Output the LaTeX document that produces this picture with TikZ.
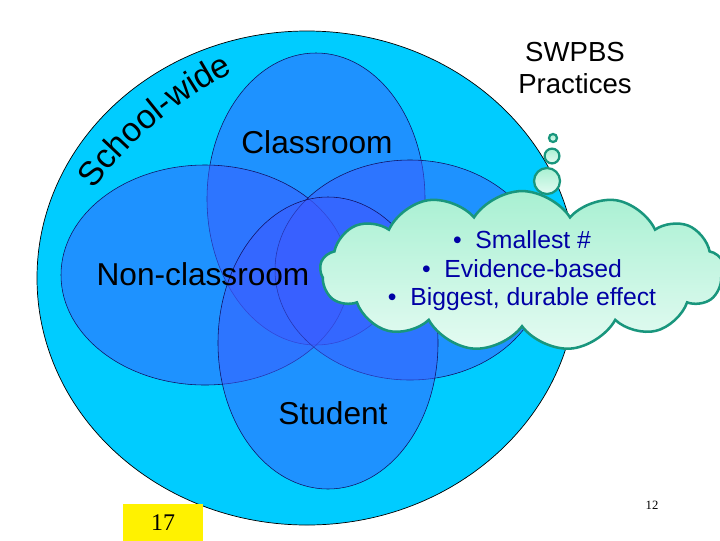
\documentclass[tikz,border=0pt]{standalone}
\usepackage{fontspec}
\setmainfont{Liberation Sans}
\newfontfamily\numfont{Liberation Serif}
\usepackage{xcolor}
\usepackage{tikz}
\usetikzlibrary{positioning, shapes.symbols, decorations.text}
\definecolor{swcyan}{HTML}{00CCFF}
\definecolor{zonefill}{RGB}{60,90,255}
\definecolor{zoneline}{HTML}{101060}
\definecolor{cloudline}{RGB}{25,150,125}
\definecolor{cloudtop}{RGB}{168,240,210}
\definecolor{cloudbot}{RGB}{228,251,242}
\definecolor{bullettext}{RGB}{0,0,165}

\begin{document}
\begin{tikzpicture}[x=0.025cm, y=-0.025cm,
  lbl/.style={font=\fontsize{22.5}{27}\selectfont},
  zone/.style={draw=zoneline, line width=0.4pt, fill=zonefill, fill opacity=0.5},
  thought/.style={cloud, cloud puffs=13, cloud puff arc=115, cloud ignores aspect,
    draw=cloudline, line width=1.8pt, top color=cloudtop, bottom color=cloudbot,
    minimum width=10.1cm, minimum height=3.85cm, inner sep=0pt, align=center,
    text=bullettext, font=\fontsize{17.6}{20.3}\selectfont},
  bub/.style={circle, draw=cloudline, line width=1.6pt, top color=cloudtop,
    bottom color=cloudbot, inner sep=0pt}]
  \useasboundingbox (0,0) rectangle (720,540);
  \clip (0,0) rectangle (720,540);

  % School-wide
  \draw[fill=swcyan, line width=0.5pt] (307,278) ellipse [x radius=270, y radius=247];
  \path[decorate, decoration={text along path, text align=center,
    text={|\fontsize{24}{28}\selectfont|School-wide}}]
    (80,208) to[bend left=14] (254,62);

  % Zonen
  \draw[zone] (316,199) ellipse [x radius=109, y radius=146];
  \draw[zone] (205,275) ellipse [x radius=144, y radius=110];
  \draw[zone] (410,270) ellipse [x radius=135, y radius=110];
  \draw[zone] (328,343) ellipse [x radius=110, y radius=146];

  \node[lbl] (classroom) at (317,142) {Classroom};
  \node[lbl] (nonclass) at (203,274) {Non-classroom};
  \node[lbl] (student) at (333,413) {Student};

  \node[align=center, font=\fontsize{19.6}{22.7}\selectfont] (swpbs) at (575,68)
    {SWPBS\\Practices};

  % Gedankenblase
  \node[bub, minimum size=0.65cm] (b3) at (547,181) {};
  \node[bub, minimum size=0.37cm] (b2) at (552,156) {};
  \node[bub, minimum size=0.2cm] (b1) at (553,138) {};
  \node[thought] (bubble) at (522,271)
    {\textbullet\ \ Smallest \#\\
     \textbullet\ \ Evidence-based\\
     \textbullet\ \ Biggest, durable effect};

  % Seitenzahlen
  \node[fill=yellow, minimum width=2cm, minimum height=0.95cm,
    font=\numfont\fontsize{17}{20}\selectfont] (num17) at (163,523) {17};
  \node[font=\numfont\fontsize{9}{11}\selectfont] (num12) at (652,505) {12};
\end{tikzpicture}
\end{document}
